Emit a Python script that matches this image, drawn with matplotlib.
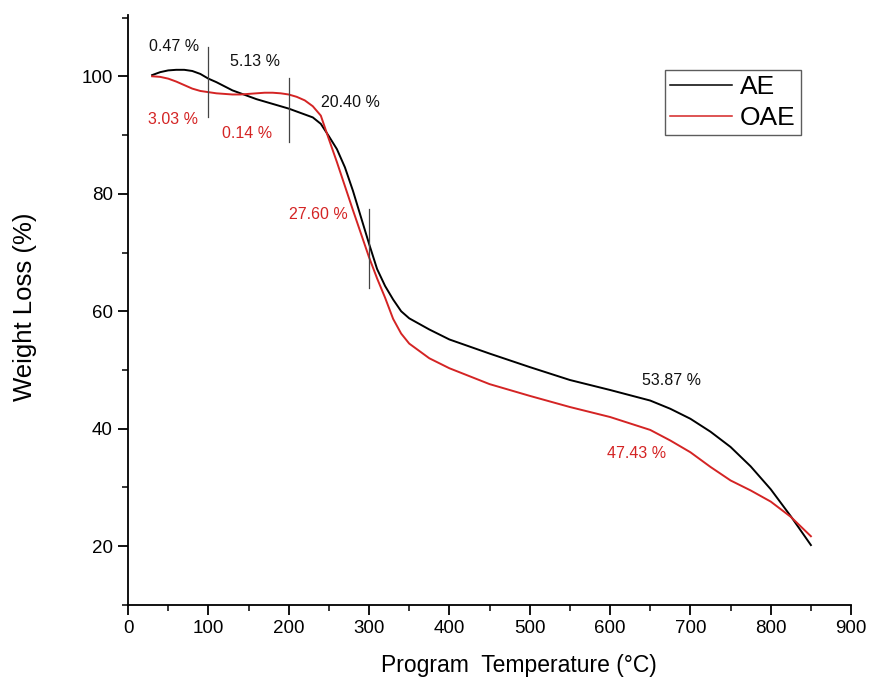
import numpy as np
import matplotlib
matplotlib.use('Agg')
from matplotlib import pyplot as plt
from matplotlib.ticker import MultipleLocator

plt.rcParams['font.family'] = ['Liberation Sans', 'DejaVu Sans']

# temperature (C) and weight (%)
temp = [30, 40, 50, 60, 70, 80, 90, 100, 110, 120, 130, 140, 150, 160, 170, 180, 190, 200,
        210, 220, 230, 240, 250, 260, 270, 280, 290, 300, 310, 320, 330, 340, 350, 375, 400,
        450, 500, 550, 600, 650, 675, 700, 725, 750, 775, 800, 825, 850]
ae = [100.2, 100.7, 101.0, 101.1, 101.1, 100.9, 100.4, 99.6, 99.0, 98.3, 97.6, 97.1, 96.6, 96.1,
      95.7, 95.3, 94.9, 94.5, 94.0, 93.5, 93.0, 91.9, 89.8, 87.6, 84.5, 80.5, 76.0, 71.5, 67.2,
      64.3, 62.0, 60.0, 58.8, 56.9, 55.2, 52.8, 50.5, 48.3, 46.6, 44.8, 43.4, 41.7, 39.5, 36.9,
      33.6, 29.7, 25.1, 20.2]
oae = [100.0, 99.9, 99.6, 99.1, 98.5, 97.9, 97.5, 97.3, 97.1, 97.0, 96.9, 96.9, 97.0, 97.1, 97.2,
       97.2, 97.1, 96.9, 96.5, 95.9, 94.9, 93.3, 89.3, 85.4, 81.3, 77.2, 73.2, 69.2, 65.6, 62.3,
       58.7, 56.2, 54.5, 52.0, 50.3, 47.6, 45.6, 43.7, 42.0, 39.8, 38.0, 36.0, 33.5, 31.2, 29.5,
       27.6, 25.0, 21.7]

# step labels
ae_labels = ['0.47 %', '5.13 %', '20.40 %', '53.87 %']
ae_label_pos = [(26, 105.0), (127, 102.6), (240, 95.6), (640, 48.2)]
oae_labels = ['3.03 %', '0.14 %', '27.60 %', '47.43 %']
oae_label_pos = [(25, 92.6), (117, 90.2), (200, 76.5), (596, 35.8)]

# step boundary markers: temperature, y bottom, y top
marks_t = [100, 200, 300]
marks_lo = [93.0, 88.8, 63.9]
marks_hi = [104.9, 99.7, 77.4]

red = '#d42424'

fig = plt.figure(figsize=(8.72, 6.9), dpi=100)
ax = fig.add_axes([0.1468, 0.1232, 0.8292, 0.8548])

ax.plot(temp, ae, color='black', lw=1.4, label='AE')
ax.plot(temp, oae, color=red, lw=1.4, label='OAE')

for t, lo, hi in zip(marks_t, marks_lo, marks_hi):
    ax.plot([t, t], [lo, hi], color='#444444', lw=0.9)

for s, (x, y) in zip(ae_labels, ae_label_pos):
    ax.text(x, y, s, color='#111111', fontsize=11.5, va='center', ha='left')
for s, (x, y) in zip(oae_labels, oae_label_pos):
    ax.text(x, y, s, color=red, fontsize=11.5, va='center', ha='left')

ax.set_xlim(0, 900)
ax.set_ylim(10, 110.4)
ax.xaxis.set_major_locator(MultipleLocator(100))
ax.xaxis.set_minor_locator(MultipleLocator(50))
ax.set_yticks([20, 40, 60, 80, 100])
ax.yaxis.set_minor_locator(MultipleLocator(10))

for side in ['top', 'right']:
    ax.spines[side].set_visible(False)
for side in ['left', 'bottom']:
    ax.spines[side].set_linewidth(1.3)

ax.tick_params(which='major', direction='out', length=7, width=1.3, labelsize=13.5, pad=4)
ax.tick_params(which='minor', direction='out', length=4, width=1.1)

ax.set_xlabel('Program  Temperature (\u00b0C)', fontsize=16.5)
ax.xaxis.set_label_coords(0.541, -0.083)
ax.set_ylabel('Weight Loss (%)', fontsize=18.5)
ax.yaxis.set_label_coords(-0.126, 0.505)

leg = ax.legend(loc='upper left', bbox_to_anchor=(0.7427, 0.9068), fontsize=19,
                frameon=True, fancybox=False, handlelength=2.35, handletextpad=0.3,
                borderpad=0.2, labelspacing=0.25, borderaxespad=0)
leg.get_frame().set_edgecolor('#333333')
leg.get_frame().set_linewidth(1.0)
for line in leg.get_lines():
    line.set_linewidth(1.1)

fig.savefig('out.png', dpi=100)
